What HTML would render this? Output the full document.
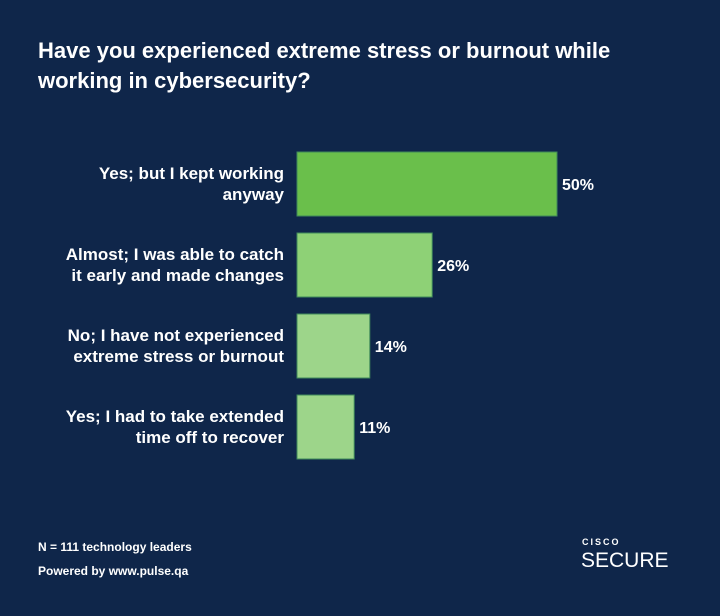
<!DOCTYPE html>
<html><head><meta charset="utf-8"><style>
body{margin:0;width:720px;height:616px;background:#0f264a;overflow:hidden;font-family:"Liberation Sans",sans-serif;color:#fff}
.t{position:absolute;left:38px;top:36px;font-size:22px;line-height:30px;margin:0;font-weight:bold}
.f{position:absolute;left:38px;font-size:12px;font-weight:bold}
</style></head><body>
<h1 class="t">Have you experienced extreme stress or burnout while<br>working in cybersecurity?</h1>
<svg id="c" width="720" height="616" style="position:absolute;left:0;top:0"></svg>
<div class="f" style="top:540px">N = 111 technology leaders</div>
<div class="f" style="top:564px">Powered by www.pulse.qa</div>
<div style="position:absolute;left:582px;top:537px;font-size:9px;font-weight:bold;letter-spacing:2px">CISCO</div>
<div style="position:absolute;left:581px;top:549px;font-size:21px;letter-spacing:0px">SECURE</div>
<script>
const categories=[["Yes; but I kept working","anyway"],["Almost; I was able to catch","it early and made changes"],["No; I have not experienced","extreme stress or burnout"],["Yes; I had to take extended","time off to recover"]];
const values=[50,26,14,11];
const labels=["50%","26%","14%","11%"];
const colors=["#6abf4b","#8ed176","#9dd58a","#9dd58a"];
const svg=document.getElementById('c');const NS="http://www.w3.org/2000/svg";
const x0=297,sc=5.2,y0=152,pitch=81,bh=64;
const x=v=>x0+v*sc, y=i=>y0+i*pitch;
values.forEach((v,i)=>{
 const r=document.createElementNS(NS,'rect');
 
 
 r.setAttribute('x',x0);r.setAttribute('y',y(i));r.setAttribute('width',x(v)-x0);r.setAttribute('height',bh);
 r.setAttribute('fill',colors[i]);r.setAttribute('stroke','#3f8a5a');r.setAttribute('stroke-width','1');svg.appendChild(r);
 const t=document.createElementNS(NS,'text');
 
 
 t.setAttribute('x',x(v)+5);t.setAttribute('y',y(i)+bh/2+6);t.setAttribute('fill','#fff');t.setAttribute('font-size','16');t.setAttribute('font-weight','bold');t.setAttribute('font-family','Liberation Sans, sans-serif');t.textContent=labels[i];svg.appendChild(t);
 categories[i].forEach((ln,j)=>{
  const c=document.createElementNS(NS,'text');
  
  
  c.setAttribute('x',284);c.setAttribute('y',y(i)+bh/2-5+j*21);c.setAttribute('text-anchor','end');c.setAttribute('fill','#fff');c.setAttribute('font-size','17');c.setAttribute('font-weight','bold');c.setAttribute('font-family','Liberation Sans, sans-serif');c.textContent=ln;svg.appendChild(c);
 });
});
</script>
</body></html>
